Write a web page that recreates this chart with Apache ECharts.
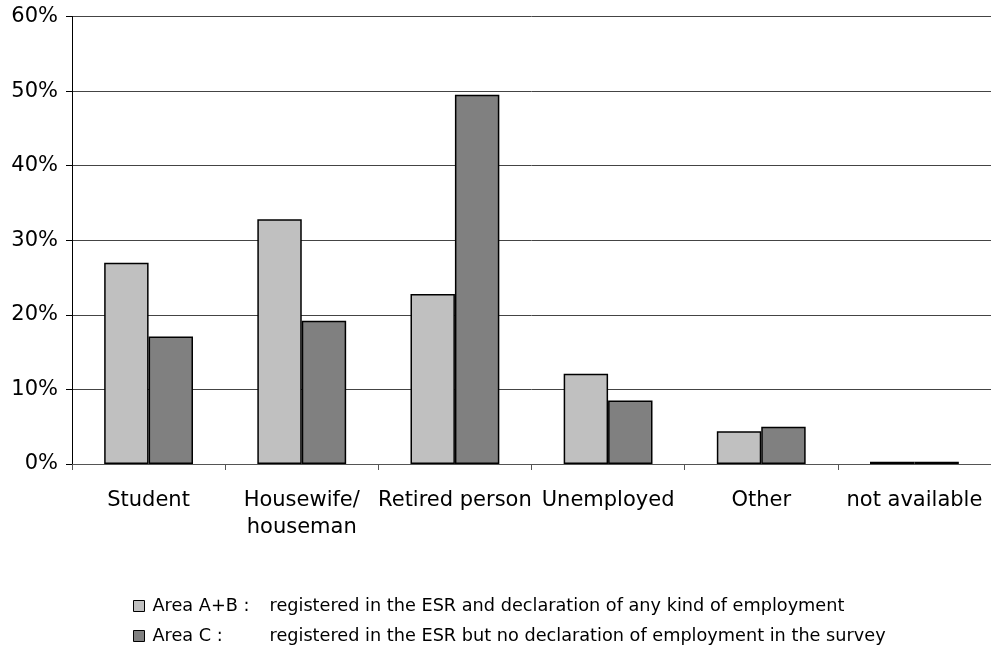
<!DOCTYPE html>
<html><head><meta charset="utf-8">
<script src="https://cdn.jsdelivr.net/npm/echarts@6/dist/echarts.min.js"></script>
<style>html,body{margin:0;padding:0;background:#fff}#c{width:991px;height:654px}</style>
</head><body><div id="c"></div>
<script>
var categories = ['Student', 'Housewife/\nhouseman', 'Retired person', 'Unemployed', 'Other', 'not available'];
var seriesNames = ['Area A+B', 'Area C'];
var legendDesc = ['registered in the ESR and declaration of any kind of employment', 'registered in the ESR but no declaration of employment in the survey'];
var areaAB = [27.0, 32.8, 22.8, 12.1, 4.4, 0.3];
var areaC = [17.1, 19.2, 49.5, 8.5, 5.0, 0.3];
var yTicks = [0, 10, 20, 30, 40, 50, 60];

var FONT = 'DejaVu Sans';
var chart = echarts.init(document.getElementById('c'));
chart.setOption({
  animation: false,
  backgroundColor: '#fff',
  textStyle: { fontFamily: FONT, color: '#000' },
  grid: { left: 72, top: 16.5, width: 921, height: 447.5, containLabel: false },
  legend: {
    orient: 'vertical', left: 133, top: 596, itemGap: 10, padding: 0,
    icon: 'rect', itemWidth: 11, itemHeight: 11,
    itemStyle: { borderColor: '#000', borderWidth: 1 },
    data: seriesNames,
    formatter: function (n) {
      var i = seriesNames.indexOf(n);
      return '{a|' + n + ' :}{b|' + legendDesc[i] + '}';
    },
    textStyle: {
      fontFamily: FONT, fontSize: 17.7, color: '#000', lineHeight: 20,
      rich: {
        a: { width: 117, fontSize: 17.7, fontFamily: FONT, padding: [0, 0, 0, 3], lineHeight: 20 },
        b: { fontSize: 17.7, fontFamily: FONT, lineHeight: 20 }
      }
    }
  },
  xAxis: {
    type: 'category', data: categories,
    axisLine: { lineStyle: { color: '#555', width: 1 } },
    axisTick: { show: true, length: 6, lineStyle: { color: '#555' } },
    axisLabel: { fontFamily: FONT, fontSize: 21, color: '#000', margin: 23, lineHeight: 27, interval: 0 }
  },
  yAxis: {
    type: 'value', min: 0, max: 60, interval: 10,
    axisLine: { show: true, lineStyle: { color: '#000', width: 1 } },
    axisTick: { show: true, length: 6, lineStyle: { color: '#000' } },
    axisLabel: { fontFamily: FONT, fontSize: 21, color: '#000', margin: 14,
      formatter: function (v) { return yTicks.indexOf(v) >= 0 ? v + '%' : ''; } },
    splitLine: { lineStyle: { color: '#444', width: 1 } }
  },
  series: [
    { name: seriesNames[0], type: 'bar', data: areaAB, barGap: '0%', barCategoryGap: '42%',
      itemStyle: { color: '#c0c0c0', borderColor: '#000', borderWidth: 1.5 } },
    { name: seriesNames[1], type: 'bar', data: areaC, barGap: '0%', barCategoryGap: '42%',
      itemStyle: { color: '#808080', borderColor: '#000', borderWidth: 1.5 } }
  ]
});
</script></body></html>
